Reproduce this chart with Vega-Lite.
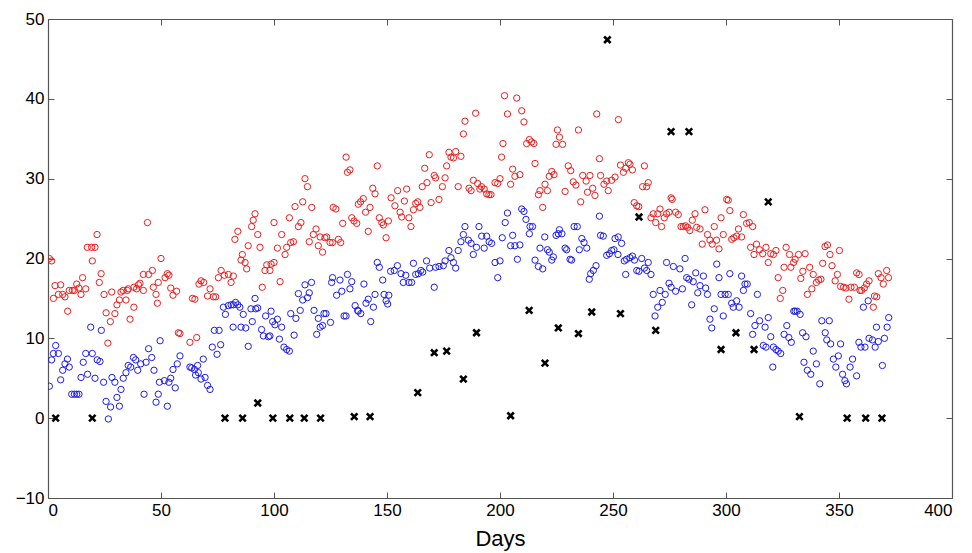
{
"$schema":"https://vega.github.io/schema/vega-lite/v6.json",
"autosize":{"type":"none"},
"padding":{"left":48,"top":19,"right":20,"bottom":55},
"width":904,"height":479,
"background":"white",
"config":{"view":{"stroke":null},"font":"Liberation Sans","axis":{"labelFont":"Liberation Sans","titleFont":"Liberation Sans","labelColor":"#000","titleColor":"#000","domainColor":"#555","tickColor":"#555","grid":false,"domainWidth":1.2}},
"resolve":{"axis":{"x":"independent","y":"independent"}},
"datasets":{
"hi":[{"day":0.6,"val":20.0},{"day":1.6,"val":19.7},{"day":2.4,"val":15.0},{"day":3.1,"val":16.6},{"day":4.6,"val":15.5},{"day":5.6,"val":16.7},{"day":6.5,"val":15.5},{"day":7.5,"val":15.2},{"day":8.7,"val":13.4},{"day":9.4,"val":16.0},{"day":10.8,"val":16.0},{"day":11.7,"val":16.0},{"day":12.7,"val":16.8},{"day":13.7,"val":16.3},{"day":14.6,"val":15.5},{"day":15.3,"val":17.6},{"day":16.7,"val":16.2},{"day":17.4,"val":21.4},{"day":19.3,"val":21.4},{"day":19.6,"val":19.7},{"day":20.8,"val":21.4},{"day":21.7,"val":23.0},{"day":22.7,"val":17.0},{"day":23.5,"val":18.1},{"day":24.8,"val":15.5},{"day":25.7,"val":13.2},{"day":26.5,"val":9.4},{"day":27.6,"val":12.1},{"day":28.2,"val":15.8},{"day":29.6,"val":13.1},{"day":30.5,"val":14.2},{"day":31.6,"val":14.8},{"day":32.3,"val":15.8},{"day":33.3,"val":16.0},{"day":34.5,"val":14.8},{"day":35.1,"val":16.0},{"day":35.5,"val":16.2},{"day":36.3,"val":12.4},{"day":38,"val":13.9},{"day":38,"val":16.4},{"day":39.2,"val":16.2},{"day":40,"val":16.7},{"day":40.7,"val":16.9},{"day":42.2,"val":18.0},{"day":42.2,"val":16.0},{"day":44,"val":24.5},{"day":44.5,"val":18.0},{"day":46.2,"val":18.5},{"day":46.6,"val":16.4},{"day":47.8,"val":15.5},{"day":48.4,"val":14.4},{"day":48.8,"val":17.0},{"day":50,"val":20.0},{"day":51.8,"val":17.6},{"day":52.8,"val":18.1},{"day":53.5,"val":17.9},{"day":54.3,"val":16.3},{"day":55.3,"val":15.4},{"day":56.9,"val":15.9},{"day":57.7,"val":10.7},{"day":58.4,"val":10.6},{"day":62.8,"val":9.5},{"day":63.9,"val":15.0},{"day":65,"val":14.9},{"day":65.8,"val":10.1},{"day":66.8,"val":16.8},{"day":67.7,"val":17.2},{"day":68.9,"val":17.0},{"day":70.6,"val":15.3},{"day":71.7,"val":16.2},{"day":73.2,"val":15.2},{"day":74.2,"val":15.2},{"day":75.4,"val":17.6},{"day":76.6,"val":18.5},{"day":78,"val":17.9},{"day":79.8,"val":18.0},{"day":81,"val":17.0},{"day":82,"val":17.8},{"day":82.7,"val":22.4},{"day":84,"val":23.4},{"day":85.4,"val":19.8},{"day":86,"val":20.5},{"day":87.2,"val":19.5},{"day":87.9,"val":18.7},{"day":88.6,"val":21.6},{"day":90.1,"val":24.0},{"day":90.8,"val":24.8},{"day":91.6,"val":25.6},{"day":92.8,"val":23.0},{"day":93.8,"val":21.4},{"day":94.8,"val":16.4},{"day":96,"val":18.5},{"day":96.8,"val":19.2},{"day":98.2,"val":18.5},{"day":98.7,"val":19.3},{"day":100,"val":19.5},{"day":100,"val":24.5},{"day":101.5,"val":21.3},{"day":102.7,"val":17.1},{"day":103.4,"val":23.0},{"day":104.9,"val":20.5},{"day":105.6,"val":21.4},{"day":106.8,"val":25.1},{"day":107.4,"val":22.0},{"day":108.6,"val":22.1},{"day":109.3,"val":26.5},{"day":110.8,"val":24.0},{"day":111.9,"val":24.5},{"day":112.7,"val":27.1},{"day":113.7,"val":30.0},{"day":114.8,"val":29.0},{"day":115.6,"val":22.1},{"day":116.7,"val":26.4},{"day":117.4,"val":23.0},{"day":118.6,"val":23.7},{"day":119.6,"val":21.6},{"day":120.4,"val":22.7},{"day":121.5,"val":20.8},{"day":122.5,"val":22.6},{"day":123.3,"val":22.7},{"day":124.8,"val":22.0},{"day":125.9,"val":22.0},{"day":126.2,"val":26.4},{"day":127.4,"val":26.2},{"day":128.5,"val":22.4},{"day":129.5,"val":22.0},{"day":130.4,"val":24.4},{"day":131.9,"val":32.7},{"day":132.5,"val":30.8},{"day":133.6,"val":31.1},{"day":134.4,"val":25.1},{"day":135.4,"val":24.7},{"day":136.6,"val":24.4},{"day":137.3,"val":26.8},{"day":138.3,"val":27.1},{"day":139.5,"val":27.5},{"day":140.5,"val":25.8},{"day":141.7,"val":23.4},{"day":142.5,"val":26.4},{"day":143.7,"val":28.8},{"day":144.7,"val":28.1},{"day":145.7,"val":31.6},{"day":146.6,"val":25.1},{"day":147.7,"val":24.5},{"day":148.4,"val":24.2},{"day":149.6,"val":22.6},{"day":150.6,"val":24.7},{"day":151.8,"val":27.6},{"day":153.5,"val":26.6},{"day":154.7,"val":28.5},{"day":155.8,"val":25.8},{"day":156.5,"val":25.2},{"day":157.7,"val":27.2},{"day":158.7,"val":28.7},{"day":159.7,"val":25.1},{"day":160.6,"val":24.0},{"day":161.7,"val":26.1},{"day":162.7,"val":26.9},{"day":163.6,"val":27.1},{"day":164.6,"val":26.4},{"day":165.6,"val":29.0},{"day":166.7,"val":31.3},{"day":167.7,"val":29.5},{"day":168.7,"val":33.0},{"day":169.5,"val":27.0},{"day":170.9,"val":30.4},{"day":171.5,"val":30.1},{"day":173,"val":27.4},{"day":174.5,"val":29.0},{"day":175.7,"val":30.1},{"day":176.4,"val":31.6},{"day":177.4,"val":33.3},{"day":178.3,"val":32.7},{"day":179.4,"val":32.6},{"day":180.4,"val":33.4},{"day":181.5,"val":29.0},{"day":182.7,"val":32.8},{"day":183.8,"val":35.6},{"day":184.5,"val":37.2},{"day":186.3,"val":28.8},{"day":187.2,"val":28.5},{"day":188.2,"val":29.8},{"day":189.2,"val":38.2},{"day":190.1,"val":29.4},{"day":191.1,"val":28.7},{"day":191.8,"val":29.0},{"day":193,"val":28.7},{"day":194.1,"val":28.1},{"day":195.1,"val":28.0},{"day":196,"val":28.0},{"day":197.8,"val":29.5},{"day":199,"val":29.4},{"day":200,"val":30.0},{"day":200.7,"val":32.7},{"day":201.3,"val":34.4},{"day":202,"val":40.4},{"day":203.3,"val":38.1},{"day":204.7,"val":29.3},{"day":205.6,"val":31.2},{"day":206.6,"val":30.3},{"day":207.4,"val":40.1},{"day":208.8,"val":30.5},{"day":209.6,"val":38.5},{"day":210.6,"val":37.1},{"day":211.8,"val":34.4},{"day":213,"val":34.9},{"day":214,"val":34.6},{"day":215,"val":34.4},{"day":215.5,"val":31.9},{"day":217,"val":28.0},{"day":217.7,"val":28.5},{"day":218.9,"val":26.4},{"day":219.9,"val":29.3},{"day":221,"val":28.5},{"day":221.8,"val":30.3},{"day":222.9,"val":30.9},{"day":223.9,"val":30.5},{"day":224.8,"val":34.3},{"day":225.4,"val":36.1},{"day":226.3,"val":35.2},{"day":227.7,"val":34.3},{"day":228.8,"val":28.4},{"day":230.2,"val":31.6},{"day":231.3,"val":31.0},{"day":232.4,"val":29.6},{"day":233.6,"val":29.2},{"day":234.7,"val":36.1},{"day":235.7,"val":27.1},{"day":236.6,"val":30.4},{"day":238.1,"val":29.7},{"day":238.7,"val":28.3},{"day":239.8,"val":30.4},{"day":241,"val":28.8},{"day":242,"val":27.9},{"day":242.8,"val":38.1},{"day":244,"val":32.5},{"day":244.5,"val":30.4},{"day":246,"val":29.3},{"day":247.2,"val":29.7},{"day":247.9,"val":28.5},{"day":249.4,"val":29.8},{"day":250.9,"val":30.2},{"day":252.4,"val":37.4},{"day":253.3,"val":31.7},{"day":254.6,"val":30.8},{"day":255.6,"val":31.3},{"day":256.8,"val":32.0},{"day":257.5,"val":31.8},{"day":258.6,"val":31.1},{"day":259.4,"val":27.0},{"day":260.5,"val":26.6},{"day":261.4,"val":26.5},{"day":263.1,"val":29.0},{"day":263.9,"val":31.6},{"day":264.9,"val":29.0},{"day":265.6,"val":29.5},{"day":266.8,"val":25.1},{"day":267.8,"val":25.6},{"day":268.9,"val":24.5},{"day":269.8,"val":25.6},{"day":270.8,"val":26.2},{"day":271.5,"val":24.0},{"day":272.7,"val":25.1},{"day":273.7,"val":25.6},{"day":274.8,"val":25.8},{"day":275.7,"val":27.6},{"day":276.2,"val":27.4},{"day":277.7,"val":25.8},{"day":278.9,"val":25.5},{"day":280.1,"val":24.0},{"day":281.1,"val":24.0},{"day":282.1,"val":24.1},{"day":283,"val":23.9},{"day":284,"val":23.5},{"day":285.1,"val":24.8},{"day":286.3,"val":25.6},{"day":287,"val":23.9},{"day":288.5,"val":23.7},{"day":289.5,"val":21.8},{"day":290.7,"val":26.1},{"day":291.8,"val":23.0},{"day":292.9,"val":22.3},{"day":293.9,"val":21.8},{"day":294.8,"val":24.0},{"day":295.8,"val":22.3},{"day":296.9,"val":21.2},{"day":297.8,"val":25.1},{"day":298.8,"val":23.0},{"day":300.3,"val":27.4},{"day":301,"val":27.3},{"day":301.7,"val":26.0},{"day":302.5,"val":22.4},{"day":303.5,"val":22.6},{"day":304.7,"val":22.8},{"day":305.5,"val":23.7},{"day":306.9,"val":22.7},{"day":307.7,"val":25.5},{"day":309.1,"val":24.4},{"day":310.3,"val":24.5},{"day":310.9,"val":21.4},{"day":311.8,"val":24.0},{"day":312.4,"val":20.5},{"day":313.5,"val":21.8},{"day":314.8,"val":21.1},{"day":316.2,"val":20.6},{"day":317.7,"val":21.4},{"day":318.7,"val":19.5},{"day":319.8,"val":20.6},{"day":321,"val":20.5},{"day":322.1,"val":21.0},{"day":323.1,"val":17.6},{"day":324,"val":15.0},{"day":325.1,"val":16.0},{"day":325.7,"val":18.9},{"day":326.6,"val":21.4},{"day":328.1,"val":20.5},{"day":328.7,"val":18.9},{"day":329.9,"val":19.5},{"day":330.6,"val":19.9},{"day":332.1,"val":20.5},{"day":333.1,"val":17.5},{"day":334,"val":18.4},{"day":335,"val":20.6},{"day":336,"val":15.5},{"day":337,"val":18.9},{"day":338,"val":16.2},{"day":338.6,"val":18.0},{"day":340,"val":17.0},{"day":341,"val":17.3},{"day":342,"val":17.4},{"day":342.8,"val":19.4},{"day":343.8,"val":21.5},{"day":344.9,"val":21.7},{"day":346,"val":20.5},{"day":346.9,"val":19.1},{"day":348.3,"val":17.2},{"day":349.3,"val":18.0},{"day":350.2,"val":21.0},{"day":350.7,"val":16.5},{"day":352,"val":16.4},{"day":353.1,"val":16.3},{"day":354.4,"val":14.9},{"day":355.3,"val":16.4},{"day":356.8,"val":16.4},{"day":357.8,"val":18.2},{"day":358.9,"val":18.0},{"day":359.3,"val":16.0},{"day":360,"val":16.0},{"day":361.2,"val":16.3},{"day":362.2,"val":16.8},{"day":363.3,"val":17.2},{"day":365.2,"val":13.9},{"day":365.7,"val":15.3},{"day":366.7,"val":15.2},{"day":367.4,"val":18.1},{"day":368.6,"val":17.6},{"day":369.6,"val":16.8},{"day":371.1,"val":18.5},{"day":371.9,"val":17.6}],
"lo":[{"day":0.6,"val":4.0},{"day":1.6,"val":7.3},{"day":2.4,"val":8.1},{"day":3.4,"val":9.1},{"day":4.6,"val":8.1},{"day":5.6,"val":4.8},{"day":6.5,"val":6.0},{"day":7.5,"val":6.8},{"day":8.6,"val":7.4},{"day":9.4,"val":6.4},{"day":10.5,"val":3.0},{"day":11.7,"val":3.0},{"day":12.7,"val":3.0},{"day":13.7,"val":3.0},{"day":14.6,"val":5.1},{"day":15.6,"val":7.0},{"day":16.7,"val":8.1},{"day":17.5,"val":5.5},{"day":18.9,"val":11.4},{"day":19.6,"val":8.1},{"day":20.8,"val":5.0},{"day":21.8,"val":7.3},{"day":23,"val":7.1},{"day":23.6,"val":11.0},{"day":24.6,"val":4.5},{"day":25.7,"val":2.1},{"day":26.7,"val":-0.1},{"day":27.7,"val":1.4},{"day":28.3,"val":5.1},{"day":29.6,"val":4.5},{"day":30.5,"val":2.6},{"day":31.6,"val":1.5},{"day":32.3,"val":3.6},{"day":33.3,"val":5.0},{"day":34.5,"val":5.7},{"day":35.5,"val":6.6},{"day":36.6,"val":6.4},{"day":37.8,"val":7.6},{"day":38.8,"val":7.3},{"day":39.7,"val":6.0},{"day":41,"val":6.8},{"day":42.5,"val":3.0},{"day":43.4,"val":7.0},{"day":44.5,"val":8.7},{"day":45.9,"val":7.6},{"day":46.9,"val":6.0},{"day":47.8,"val":2.0},{"day":48.8,"val":3.0},{"day":49.3,"val":4.5},{"day":49.6,"val":9.7},{"day":51.5,"val":4.7},{"day":52.8,"val":1.5},{"day":53.5,"val":4.5},{"day":54.3,"val":5.0},{"day":55.3,"val":6.1},{"day":56.3,"val":3.8},{"day":57.2,"val":6.8},{"day":58.4,"val":7.8},{"day":62.8,"val":6.4},{"day":63.6,"val":6.3},{"day":64.8,"val":6.1},{"day":65.3,"val":5.4},{"day":66.2,"val":6.6},{"day":66.5,"val":5.7},{"day":67.7,"val":4.9},{"day":68.7,"val":7.4},{"day":69.5,"val":5.1},{"day":70.6,"val":4.1},{"day":71.7,"val":3.6},{"day":72.7,"val":8.9},{"day":73.6,"val":11.0},{"day":74.8,"val":8.0},{"day":75.7,"val":11.0},{"day":76.4,"val":9.2},{"day":77.6,"val":13.9},{"day":78.5,"val":13.0},{"day":79.8,"val":14.1},{"day":81,"val":14.2},{"day":81.9,"val":11.4},{"day":82,"val":14.2},{"day":83,"val":14.5},{"day":84,"val":14.2},{"day":84.9,"val":13.9},{"day":85.4,"val":11.4},{"day":86.4,"val":13.0},{"day":87.5,"val":11.3},{"day":88.6,"val":9.0},{"day":89.8,"val":13.7},{"day":90.4,"val":12.1},{"day":91.6,"val":15.0},{"day":91.9,"val":13.7},{"day":92.8,"val":13.8},{"day":94.5,"val":11.1},{"day":95.3,"val":10.3},{"day":96.3,"val":12.8},{"day":97.5,"val":10.2},{"day":98.2,"val":10.3},{"day":98.7,"val":13.4},{"day":99.4,"val":12.1},{"day":100.4,"val":11.7},{"day":101.5,"val":12.4},{"day":102.4,"val":9.9},{"day":103.4,"val":11.4},{"day":104.4,"val":8.9},{"day":105.6,"val":8.6},{"day":106.8,"val":8.4},{"day":107.4,"val":13.1},{"day":108.9,"val":10.4},{"day":109.7,"val":12.5},{"day":110.8,"val":15.6},{"day":111.6,"val":13.5},{"day":112.7,"val":14.8},{"day":113.7,"val":16.7},{"day":114.8,"val":15.1},{"day":115.6,"val":15.7},{"day":116.6,"val":17.0},{"day":117.7,"val":13.5},{"day":118.9,"val":10.5},{"day":119.6,"val":12.5},{"day":120.4,"val":11.4},{"day":121.5,"val":11.6},{"day":122.1,"val":13.1},{"day":123,"val":13.1},{"day":125,"val":12.0},{"day":125.5,"val":17.0},{"day":125.9,"val":17.6},{"day":127.7,"val":15.4},{"day":129.2,"val":17.3},{"day":130,"val":15.9},{"day":131,"val":12.8},{"day":131.9,"val":12.8},{"day":132.5,"val":18.0},{"day":133.6,"val":16.2},{"day":134.4,"val":17.1},{"day":135.9,"val":14.1},{"day":137,"val":13.5},{"day":137.3,"val":13.4},{"day":138.4,"val":13.1},{"day":139.8,"val":16.8},{"day":140.7,"val":14.4},{"day":141.7,"val":14.9},{"day":142.8,"val":12.1},{"day":144,"val":13.9},{"day":144.7,"val":15.5},{"day":145.7,"val":19.5},{"day":146.6,"val":18.9},{"day":148.1,"val":17.3},{"day":148.7,"val":15.5},{"day":149.6,"val":14.7},{"day":150.3,"val":14.3},{"day":150.8,"val":15.4},{"day":151.6,"val":18.4},{"day":153.2,"val":18.5},{"day":154.6,"val":19.1},{"day":156.2,"val":18.1},{"day":157.2,"val":17.0},{"day":158.3,"val":17.9},{"day":159.7,"val":17.0},{"day":160.9,"val":17.0},{"day":161.7,"val":19.4},{"day":162.7,"val":18.0},{"day":163.9,"val":18.1},{"day":165,"val":18.5},{"day":165.8,"val":18.3},{"day":167.5,"val":19.7},{"day":168.9,"val":18.8},{"day":170.9,"val":16.4},{"day":171.5,"val":18.9},{"day":173,"val":19.0},{"day":174.9,"val":19.1},{"day":175.7,"val":19.7},{"day":177.4,"val":21.0},{"day":178.3,"val":20.1},{"day":179.4,"val":19.5},{"day":180.4,"val":18.8},{"day":181.5,"val":21.0},{"day":182.7,"val":22.1},{"day":183.8,"val":23.0},{"day":184.5,"val":24.0},{"day":186,"val":22.3},{"day":187.2,"val":21.9},{"day":188.2,"val":20.5},{"day":189.6,"val":21.4},{"day":190.7,"val":24.0},{"day":191.9,"val":22.8},{"day":193,"val":21.3},{"day":194.1,"val":22.8},{"day":195.2,"val":22.1},{"day":196.3,"val":21.9},{"day":197.8,"val":19.5},{"day":199,"val":17.6},{"day":200,"val":19.7},{"day":201,"val":22.6},{"day":202.3,"val":24.5},{"day":203.3,"val":25.7},{"day":204.7,"val":21.6},{"day":205.6,"val":22.9},{"day":206.6,"val":21.6},{"day":207.7,"val":19.9},{"day":208.8,"val":21.7},{"day":209.6,"val":26.2},{"day":210.6,"val":25.9},{"day":211.5,"val":24.9},{"day":213,"val":23.1},{"day":213.3,"val":24.0},{"day":214.4,"val":24.0},{"day":215.5,"val":19.8},{"day":217,"val":19.0},{"day":217.7,"val":21.3},{"day":218.9,"val":18.7},{"day":219.8,"val":22.7},{"day":221,"val":21.1},{"day":221.8,"val":20.8},{"day":222.9,"val":19.8},{"day":223.6,"val":20.2},{"day":224.8,"val":22.9},{"day":225.8,"val":23.1},{"day":226.3,"val":23.6},{"day":227.4,"val":23.1},{"day":228.8,"val":21.3},{"day":229.5,"val":21.1},{"day":231,"val":19.9},{"day":231.7,"val":19.8},{"day":232.8,"val":24.0},{"day":234.2,"val":24.0},{"day":235.1,"val":21.1},{"day":236.2,"val":22.5},{"day":237.2,"val":22.0},{"day":238.4,"val":21.3},{"day":239.5,"val":17.4},{"day":240.1,"val":18.1},{"day":241.3,"val":18.5},{"day":242.5,"val":19.1},{"day":244,"val":25.3},{"day":244.5,"val":22.9},{"day":245.7,"val":22.8},{"day":247.2,"val":20.4},{"day":248.4,"val":20.6},{"day":249.4,"val":21.0},{"day":250.4,"val":21.1},{"day":250.9,"val":22.5},{"day":252.3,"val":22.7},{"day":252.2,"val":20.5},{"day":253.8,"val":21.9},{"day":255,"val":19.7},{"day":255.6,"val":18.0},{"day":256,"val":19.9},{"day":257.5,"val":20.1},{"day":258.6,"val":20.3},{"day":259.5,"val":19.8},{"day":260.5,"val":18.5},{"day":261.5,"val":18.4},{"day":262.7,"val":20.0},{"day":263.9,"val":18.8},{"day":264.9,"val":18.5},{"day":265.6,"val":19.5},{"day":266.8,"val":18.0},{"day":267.8,"val":15.5},{"day":268.6,"val":12.8},{"day":269.8,"val":13.9},{"day":270.8,"val":16.0},{"day":271.8,"val":14.5},{"day":273.1,"val":15.5},{"day":273.7,"val":19.5},{"day":274.8,"val":16.9},{"day":275.7,"val":16.4},{"day":276.7,"val":19.0},{"day":277.7,"val":15.9},{"day":279.6,"val":18.7},{"day":280.7,"val":16.2},{"day":281.9,"val":20.0},{"day":282.6,"val":17.6},{"day":283.6,"val":17.4},{"day":284.8,"val":14.2},{"day":285.5,"val":17.1},{"day":286.6,"val":18.2},{"day":287.5,"val":15.7},{"day":288.5,"val":16.6},{"day":290,"val":17.8},{"day":291,"val":16.3},{"day":291.8,"val":15.5},{"day":292.9,"val":12.4},{"day":293.7,"val":11.3},{"day":294.8,"val":13.7},{"day":295.9,"val":19.3},{"day":296.9,"val":17.6},{"day":297.8,"val":15.5},{"day":298.8,"val":12.8},{"day":299.6,"val":15.5},{"day":301,"val":15.5},{"day":301.7,"val":18.1},{"day":302.5,"val":14.4},{"day":303.2,"val":13.9},{"day":304.7,"val":14.7},{"day":305.8,"val":13.9},{"day":306.9,"val":17.8},{"day":307.7,"val":16.0},{"day":308.4,"val":16.8},{"day":309.4,"val":16.8},{"day":310.9,"val":13.1},{"day":311.8,"val":10.5},{"day":312.8,"val":11.6},{"day":313.9,"val":15.5},{"day":314.9,"val":12.2},{"day":316.5,"val":9.1},{"day":317.3,"val":11.4},{"day":317.7,"val":8.9},{"day":318.7,"val":12.6},{"day":319.8,"val":10.2},{"day":320.7,"val":6.4},{"day":321,"val":8.9},{"day":322.1,"val":8.6},{"day":323.1,"val":8.4},{"day":324.2,"val":8.1},{"day":325.7,"val":10.5},{"day":326.9,"val":11.6},{"day":327.8,"val":10.1},{"day":328.9,"val":9.5},{"day":330,"val":13.4},{"day":330.6,"val":13.4},{"day":331.5,"val":13.4},{"day":332.8,"val":13.0},{"day":333.9,"val":10.7},{"day":334.5,"val":7.0},{"day":335.4,"val":10.2},{"day":336,"val":6.0},{"day":337.5,"val":5.5},{"day":338.6,"val":8.4},{"day":340,"val":6.8},{"day":341.5,"val":4.3},{"day":342.4,"val":12.2},{"day":343.9,"val":10.7},{"day":344.6,"val":9.8},{"day":345.7,"val":12.2},{"day":346.3,"val":9.3},{"day":347.5,"val":7.4},{"day":348.6,"val":6.4},{"day":349.7,"val":7.8},{"day":350.7,"val":9.3},{"day":351.6,"val":5.5},{"day":352.6,"val":4.7},{"day":353.3,"val":4.3},{"day":354.9,"val":6.4},{"day":356,"val":7.4},{"day":357.8,"val":5.3},{"day":358.8,"val":9.5},{"day":359.7,"val":8.9},{"day":360.8,"val":13.9},{"day":361.5,"val":8.9},{"day":362.9,"val":14.7},{"day":363.3,"val":10.0},{"day":364.8,"val":9.8},{"day":366,"val":8.9},{"day":366.6,"val":11.4},{"day":367.4,"val":9.6},{"day":369.2,"val":6.6},{"day":370.1,"val":10.0},{"day":371.3,"val":11.4},{"day":372,"val":12.6}],
"ev":[{"day":3.4,"val":0},{"day":19.6,"val":0},{"day":78.3,"val":0},{"day":86.1,"val":0},{"day":92.8,"val":1.9},{"day":99.5,"val":0},{"day":107,"val":0},{"day":113.4,"val":0},{"day":120.6,"val":0},{"day":135.5,"val":0.2},{"day":142.5,"val":0.2},{"day":163.6,"val":3.2},{"day":170.9,"val":8.2},{"day":176.4,"val":8.4},{"day":183.8,"val":4.9},{"day":189.6,"val":10.7},{"day":204.7,"val":0.3},{"day":212.9,"val":13.5},{"day":219.9,"val":6.9},{"day":225.8,"val":11.3},{"day":234.7,"val":10.6},{"day":240.6,"val":13.3},{"day":247.5,"val":47.4},{"day":253.3,"val":13.1},{"day":261.5,"val":25.2},{"day":268.9,"val":11.0},{"day":275.7,"val":35.9},{"day":283.6,"val":35.9},{"day":297.8,"val":8.6},{"day":304.4,"val":10.7},{"day":312.4,"val":8.6},{"day":318.7,"val":27.1},{"day":332.5,"val":0.2},{"day":353.6,"val":0},{"day":361.8,"val":0},{"day":369,"val":0}]
},
"layer":[
{"data":{"name":"hi"},"mark":{"type":"point","shape":"circle","filled":false,"color":"#ee1c1c","size":40,"strokeWidth":1,"opacity":1,"clip":true},
 "encoding":{"x":{"field":"day","type":"quantitative","scale":{"domain":[0,400],"nice":false,"zero":false},"axis":{"orient":"bottom","values":[0,50,100,150,200,250,300,350,400],"tickSize":-6,"labelPadding":10,"labelFontSize":17,"title":"Days","titleFontSize":22,"titleFontWeight":"normal","titlePadding":10}},
  "y":{"field":"val","type":"quantitative","scale":{"domain":[-10,50],"nice":false,"zero":false},"axis":{"orient":"left","values":[-10,0,10,20,30,40,50],"tickSize":-6,"labelPadding":10,"labelFontSize":17,"title":null}}}},
{"data":{"name":"lo"},"mark":{"type":"point","shape":"circle","filled":false,"color":"#1c1cee","size":40,"strokeWidth":1,"opacity":1,"clip":true},
 "encoding":{"x":{"field":"day","type":"quantitative","axis":null},"y":{"field":"val","type":"quantitative","axis":null}}},
{"data":{"name":"ev"},"mark":{"type":"point","shape":"M-1,-1L1,1M-1,1L1,-1","filled":false,"color":"#000","size":42,"strokeWidth":2.6,"opacity":1,"clip":true},
 "encoding":{"x":{"field":"day","type":"quantitative","axis":{"orient":"top","values":[0,50,100,150,200,250,300,350,400],"tickSize":-6,"labels":false,"title":null}},
  "y":{"field":"val","type":"quantitative","axis":{"orient":"right","values":[-10,0,10,20,30,40,50],"tickSize":-6,"labels":false,"title":null}}}}
]
}
